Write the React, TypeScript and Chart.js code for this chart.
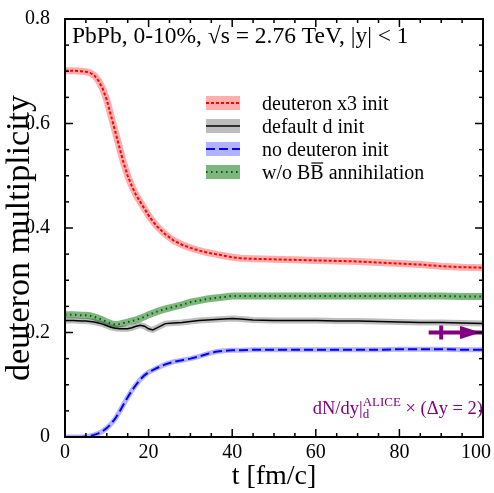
import React, { useEffect, useRef } from "react";
import { Chart, registerables } from "chart.js";
Chart.register(...registerables);

// ---- data ----
const TIMES = [0, 2, 4, 5, 6, 7, 8, 9, 10, 11, 12, 13, 14, 15, 16, 17, 18, 19, 20, 21, 22, 24, 26, 28, 30, 32, 34, 36, 38, 40, 42, 45, 50, 55, 60, 65, 70, 75, 80, 85, 90, 95, 100];
const DEUTERON_X3 = [0.701, 0.701, 0.700, 0.699, 0.697, 0.692, 0.682, 0.667, 0.645, 0.615, 0.585, 0.555, 0.525, 0.500, 0.480, 0.463, 0.450, 0.437, 0.424, 0.413, 0.403, 0.388, 0.376, 0.368, 0.362, 0.357, 0.353, 0.350, 0.347, 0.344, 0.342, 0.341, 0.340, 0.339, 0.338, 0.337, 0.336, 0.334, 0.332, 0.330, 0.327, 0.325, 0.324];
const DEFAULT_D = [0.223, 0.223, 0.222, 0.222, 0.221, 0.220, 0.218, 0.216, 0.213, 0.210, 0.208, 0.207, 0.207, 0.207, 0.209, 0.212, 0.214, 0.212, 0.207, 0.205, 0.209, 0.217, 0.218, 0.219, 0.221, 0.223, 0.224, 0.225, 0.226, 0.227, 0.226, 0.224, 0.223, 0.223, 0.223, 0.222, 0.222, 0.221, 0.220, 0.219, 0.219, 0.218, 0.217];
const NO_DEUTERON = [0, 0, 0, 0.001, 0.002, 0.004, 0.007, 0.011, 0.017, 0.025, 0.035, 0.048, 0.062, 0.076, 0.089, 0.100, 0.110, 0.118, 0.124, 0.128, 0.132, 0.139, 0.144, 0.147, 0.150, 0.154, 0.159, 0.163, 0.165, 0.166, 0.166, 0.167, 0.167, 0.167, 0.167, 0.167, 0.167, 0.167, 0.168, 0.168, 0.168, 0.167, 0.167];
const NO_BBBAR = [0.234, 0.234, 0.233, 0.233, 0.232, 0.230, 0.227, 0.224, 0.220, 0.217, 0.215, 0.216, 0.218, 0.220, 0.222, 0.224, 0.227, 0.230, 0.234, 0.237, 0.240, 0.245, 0.249, 0.253, 0.258, 0.261, 0.264, 0.266, 0.268, 0.270, 0.270, 0.270, 0.270, 0.270, 0.270, 0.270, 0.270, 0.270, 0.270, 0.270, 0.270, 0.269, 0.269];

const ALICE_VALUE = 0.2;
const ALICE_LINE_T = [87, 100];
const ALICE_MARK_T = 90;
const ALICE_ARROW_T = 97;

const X_TICKS = [0, 20, 40, 60, 80, 100];
const Y_TICKS = [0, 0.2, 0.4, 0.6, 0.8];
const LEGEND_LABELS = ["deuteron x3 init", "default d init", "no deuteron init", "w/o BB annihilation"];
const TITLE_TEXT = "PbPb, 0-10%, \u221As = 2.76 TeV, |y| < 1";
const Y_TITLE = "deuteron multiplicity";
const X_TITLE = "t [fm/c]";

const FONT = "'Liberation Serif', 'Times New Roman', serif";
const PURPLE = "#800080";

const STYLES = [
  { band: "rgba(255,0,0,0.32)", color: "#ff0000", dash: [3, 2], width: 2, bandW: 7 },
  { band: "rgba(0,0,0,0.26)", color: "#000000", dash: [] as number[], width: 1.5, bandW: 6 },
  { band: "rgba(0,0,255,0.3)", color: "#0000ff", dash: [9, 4], width: 2, bandW: 5 },
  { band: "rgba(0,110,0,0.5)", color: "#005a00", dash: [1.5, 3.5], width: 2, bandW: 7 },
];

function drawDecorations(chart: any) {
  const { ctx, chartArea: a, scales } = chart;
  const xs = scales.x;
  const ys = scales.y;
  ctx.save();
  // inward ticks on all four sides
  ctx.strokeStyle = "#000";
  ctx.lineWidth = 1.5;
  ctx.setLineDash([]);
  const seg = (x1: number, y1: number, x2: number, y2: number) => {
    ctx.beginPath();
    ctx.moveTo(x1, y1);
    ctx.lineTo(x2, y2);
    ctx.stroke();
  };
  for (let i = 0; i <= 20; i++) {
    const v = i * 5;
    const px = xs.getPixelForValue(v);
    const len = i % 4 === 0 ? 8 : 4;
    seg(px, a.bottom, px, a.bottom - len);
    seg(px, a.top, px, a.top + len);
  }
  for (let i = 0; i <= 16; i++) {
    const v = i * 0.05;
    const py = ys.getPixelForValue(v);
    const len = i % 4 === 0 ? 8 : 4;
    seg(a.left, py, a.left + len, py);
    seg(a.right, py, a.right - len, py);
  }
  // frame
  ctx.lineWidth = 2;
  ctx.strokeRect(a.left, a.top, a.right - a.left, a.bottom - a.top);

  // x tick labels
  ctx.fillStyle = "#000";
  ctx.font = `20px ${FONT}`;
  ctx.textBaseline = "top";
  ctx.textAlign = "left";
  X_TICKS.forEach((v) => {
    const txt = String(v);
    const w = ctx.measureText(txt).width;
    let left = xs.getPixelForValue(v) - w / 2;
    if (left + w > chart.width - 3) left = chart.width - 3 - w;
    ctx.fillText(txt, left, a.bottom + 6);
  });

  // y axis title
  ctx.save();
  ctx.font = `34px ${FONT}`;
  ctx.textAlign = "center";
  ctx.textBaseline = "middle";
  ctx.translate(20.5, (a.top + a.bottom) / 2 + 10);
  ctx.rotate(-Math.PI / 2);
  ctx.fillText(Y_TITLE, 0, 0);
  ctx.restore();

  // title inside
  ctx.textAlign = "left";
  ctx.font = `23.5px ${FONT}`;
  ctx.textBaseline = "alphabetic";
  ctx.fillText(TITLE_TEXT, a.left + 7, a.top + 24);

  // legend
  ctx.font = `20px ${FONT}`;
  const lx = 206, lw = 34, tx = 262;
  LEGEND_LABELS.forEach((label, i) => {
    const st = STYLES[i];
    const cy = 103 + i * 23;
    ctx.fillStyle = st.band;
    ctx.fillRect(lx, cy - 7, lw, 14);
    ctx.strokeStyle = st.color;
    ctx.lineWidth = st.width;
    ctx.setLineDash(st.dash);
    seg(lx, cy, lx + lw, cy);
    ctx.setLineDash([]);
    ctx.fillStyle = "#000";
    const base = cy + 7;
    if (i === 3) {
      const p1 = "w/o B";
      ctx.fillText(p1, tx, base);
      const x2 = tx + ctx.measureText(p1).width;
      const wB = ctx.measureText("B").width;
      ctx.fillText("B", x2, base);
      ctx.strokeStyle = "#000";
      ctx.lineWidth = 1.2;
      seg(x2 + 1, base - 16, x2 + wB - 0.5, base - 16);
      ctx.fillText(" annihilation", x2 + wB, base);
    } else {
      ctx.fillText(label, tx, base);
    }
  });

  // ALICE annotation
  ctx.fillStyle = PURPLE;
  const mainF = `18.5px ${FONT}`;
  const smallF = `13px ${FONT}`;
  const p1 = "dN/dy|";
  const p3 = " \u00D7 (\u0394y = 2)";
  ctx.font = mainF;
  const w1 = ctx.measureText(p1).width;
  const w3 = ctx.measureText(p3).width;
  ctx.font = smallF;
  const w2 = Math.max(ctx.measureText("ALICE").width, ctx.measureText("d").width);
  const total = w1 + w2 + w3;
  const base = 414;
  let x = a.right - total;
  ctx.font = mainF;
  ctx.fillText(p1, x, base);
  x += w1;
  ctx.font = smallF;
  ctx.fillText("ALICE", x, base - 8);
  ctx.fillText("d", x, base + 4);
  x += w2;
  ctx.font = mainF;
  ctx.fillText(p3, x, base);
  ctx.restore();
}

function makeArrowHead(): HTMLCanvasElement {
  const c = document.createElement("canvas");
  c.width = 20;
  c.height = 13;
  const g = c.getContext("2d")!;
  g.fillStyle = PURPLE;
  g.beginPath();
  g.moveTo(0, 0);
  g.lineTo(20, 6.5);
  g.lineTo(0, 13);
  g.closePath();
  g.fill();
  return c;
}

export default function App() {
  const ref = useRef<HTMLCanvasElement>(null);
  useEffect(() => {
    if (!ref.current) return;
    const pts = (vals: number[]) => TIMES.map((t, i) => ({ x: t, y: vals[i] }));
    const series = [DEUTERON_X3, DEFAULT_D, NO_DEUTERON, NO_BBBAR];
    const bands = series.map((s, i) => ({
      data: pts(s),
      borderColor: STYLES[i].band,
      borderWidth: STYLES[i].bandW,
      pointRadius: 0,
      fill: false,
      order: 10,
      borderCapStyle: "butt",
    }));
    const lines = series.map((s, i) => ({
      label: LEGEND_LABELS[i],
      data: pts(s),
      borderColor: STYLES[i].color,
      borderWidth: STYLES[i].width,
      borderDash: STYLES[i].dash,
      pointRadius: 0,
      fill: false,
      order: 5,
    }));
    const alice = [
      {
        data: ALICE_LINE_T.map((t) => ({ x: t, y: ALICE_VALUE })),
        borderColor: PURPLE,
        borderWidth: 4,
        pointRadius: 0,
        order: 1,
      },
      {
        data: [{ x: ALICE_MARK_T, y: ALICE_VALUE }],
        showLine: false,
        pointStyle: "line",
        pointRotation: 90,
        pointRadius: 7,
        pointBorderWidth: 4,
        pointBorderColor: PURPLE,
        order: 0,
      },
      {
        data: [{ x: ALICE_ARROW_T, y: ALICE_VALUE }],
        showLine: false,
        pointStyle: makeArrowHead(),
        pointRadius: 5,
        order: 0,
      },
    ];
    const chart = new Chart(ref.current, {
      type: "line",
      data: { datasets: [...bands, ...lines, ...alice] as any },
      options: {
        animation: false,
        responsive: false,
        devicePixelRatio: 1,
        events: [],
        layout: { padding: { top: 14, right: 9, left: 0, bottom: 0 } },
        plugins: { legend: { display: false }, tooltip: { enabled: false } },
        scales: {
          x: {
            type: "linear",
            min: 0,
            max: 100,
            grid: { display: false },
            border: { display: false },
            ticks: { display: false },
            afterBuildTicks: (s: any) => {
              s.ticks = X_TICKS.map((v) => ({ value: v }));
            },
            afterFit: (s: any) => {
              s.height = 56;
              s.paddingLeft = 0;
              s.paddingRight = 0;
            },
            title: {
              display: true,
              text: X_TITLE,
              color: "#000",
              font: { family: FONT, size: 28 },
              padding: { top: 0, bottom: 0 },
            },
          },
          y: {
            type: "linear",
            min: 0,
            max: 0.8,
            grid: { display: false },
            border: { display: false },
            afterBuildTicks: (s: any) => {
              s.ticks = Y_TICKS.map((v) => ({ value: v }));
            },
            afterFit: (s: any) => {
              s.width = 65;
            },
            ticks: {
              color: "#000",
              padding: 7,
              font: { family: FONT, size: 20 },
              callback: (v: any) => (Number(v) === 0 ? "0" : Number(v).toFixed(1)),
            },
            title: { display: false },
          },
        },
      },
      plugins: [{ id: "decor", afterDraw: drawDecorations }],
    } as any);
    return () => chart.destroy();
  }, []);
  return (
    <div style={{ position: "absolute", left: 0, top: 0, width: 494, height: 493, background: "#fff" }}>
      <canvas ref={ref} width={494} height={493} style={{ display: "block" }} />
    </div>
  );
}
